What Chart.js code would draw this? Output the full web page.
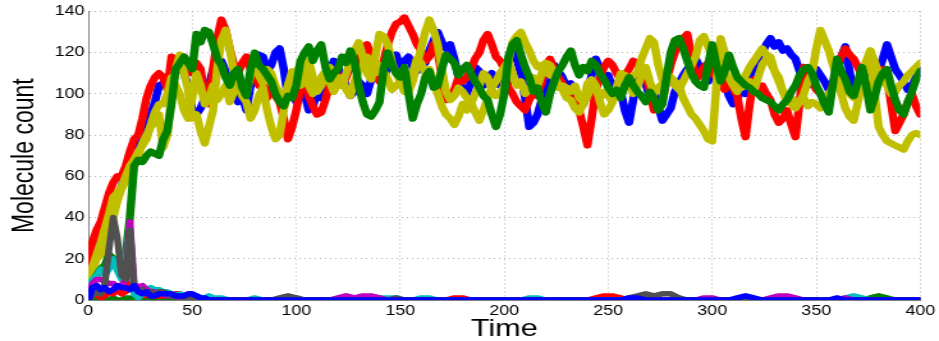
<!DOCTYPE html>
<html>
<head>
<meta charset="utf-8">
<script src="https://cdn.jsdelivr.net/npm/chart.js@4.4.1/dist/chart.umd.min.js"></script>
<style>
  html, body { margin: 0; padding: 0; background: #fff; overflow: hidden; }
  #wrap { width: 734px; height: 341px; transform: scaleX(1.2793); transform-origin: 0 0; }
</style>
</head>
<body>
<div id="wrap"><canvas id="chart"></canvas></div>
<script>
// sample times for the high-count species: every 2
var timeHi = [0,2,4,6,8,10,12,14,16,18,20,22,24,26,28,30,32,34,36,38,40,42,44,46,48,50,52,54,56,58,60,
  62,64,66,68,70,72,74,76,78,80,82,84,86,88,90,92,94,96,98,100,
  102,104,106,108,110,112,114,116,118,120,122,124,126,128,130,132,134,136,138,140,
  142,144,146,148,150,152,154,156,158,160,162,164,166,168,170,172,174,176,178,180,
  182,184,186,188,190,192,194,196,198,200,202,204,206,208,210,212,214,216,218,220,
  222,224,226,228,230,232,234,236,238,240,242,244,246,248,250,252,254,256,258,260,
  262,264,266,268,270,272,274,276,278,280,282,284,286,288,290,292,294,296,298,300,
  302,304,306,308,310,312,314,316,318,320,322,324,326,328,330,332,334,336,338,340,
  342,344,346,348,350,352,354,356,358,360,362,364,366,368,370,372,374,376,378,380,
  382,384,386,388,390,392,394,396,398,400];

// sample times for the low-count species: every 2 up to 60, then every 4
var timeLow = [0,2,4,6,8,10,12,14,16,18,20,22,24,26,28,30,32,34,36,38,40,42,44,46,48,50,52,54,56,58,60,
  64,68,72,76,80,84,88,92,96,100,104,108,112,116,120,124,128,132,136,140,
  144,148,152,156,160,164,168,172,176,180,184,188,192,196,200,204,208,212,216,220,
  224,228,232,236,240,244,248,252,256,260,264,268,272,276,280,284,288,292,296,300,
  304,308,312,316,320,324,328,332,336,340,344,348,352,356,360,364,368,372,376,380,
  384,388,392,396,400];

var xTicks = [0,50,100,150,200,250,300,350,400];
var yTicks = [0,20,40,60,80,100,120,140];

// high-count species
var blue = [8,18,28,32,36,40,44,50,55,62,70,74,78,80,86,90,96,104,105,104,112,115,117,110,104,92,90,93,98,104,112,
  110,116,111,106,102,96,99,92,104,112,119,118,111,114,120,122,112,98,101,96,
  104,100,92,94,101,98,106,110,116,113,108,104,99,101,106,104,100,107,112,110,
  108,113,115,119,113,116,118,113,111,117,115,121,126,130,125,122,124,117,108,102,
  100,106,113,111,104,108,110,106,104,109,116,123,117,110,98,84,86,90,97,103,
  110,114,111,108,103,105,99,93,95,100,109,117,112,107,109,103,105,101,92,86,
  97,108,111,105,98,100,94,87,90,93,101,105,109,112,114,117,113,111,106,110,
  112,115,106,99,95,97,103,100,106,112,117,120,124,127,123,125,121,122,119,117,
  111,107,104,108,112,109,106,102,105,110,118,123,111,100,103,106,111,113,108,111,
  117,124,118,112,109,106,102,104,108,112];
var red = [15,28,34,38,45,52,57,60,60,65,72,78,80,88,98,104,108,110,108,102,118,114,112,118,114,110,115,112,100,95,112,
  127,136,131,122,114,110,115,118,112,110,104,106,98,102,99,96,88,78,84,92,
  103,108,99,94,90,91,97,104,110,109,104,108,114,112,117,122,124,118,110,106,
  116,124,130,134,135,137,133,129,124,121,116,118,124,120,109,97,99,102,108,106,
  108,112,117,120,126,129,124,118,116,112,103,100,96,94,92,97,101,99,106,114,
  117,112,108,105,101,98,96,92,84,75,88,102,108,113,116,114,110,107,109,112,
  116,115,112,110,101,92,94,97,106,114,120,126,127,129,118,107,109,113,115,110,
  108,106,102,106,103,99,88,79,95,107,102,104,100,97,90,86,88,92,85,79,
  96,113,110,106,102,100,97,94,105,112,118,122,119,117,113,109,104,101,106,110,
  112,108,95,82,86,90,96,100,94,90];
var green = [5,9,12,15,17,22,20,17,15,22,40,65,68,67,70,72,71,70,78,82,95,112,115,118,115,112,129,125,131,130,124,
  117,114,108,104,110,112,103,99,112,120,114,112,109,106,100,96,94,99,98,104,
  116,120,123,116,121,124,113,107,110,112,118,115,121,116,104,96,90,89,92,96,
  112,120,114,110,108,113,100,88,95,100,108,111,103,104,112,119,117,115,109,112,
  114,110,106,103,99,97,90,84,90,100,118,124,126,119,113,108,101,103,96,91,
  100,106,111,114,118,121,114,109,113,111,116,114,110,107,103,100,102,98,104,108,
  104,101,99,96,101,98,92,95,108,120,126,127,122,116,110,106,104,103,114,124,
  114,106,111,119,113,108,106,104,103,101,100,98,97,96,94,92,95,97,101,104,
  109,112,113,110,104,100,95,91,105,117,111,107,101,99,106,113,104,92,98,106,
  110,112,104,97,92,90,96,101,107,111];
var yellowA = [8,14,20,22,26,32,40,48,54,58,62,66,70,76,80,84,86,90,74,80,100,112,119,110,102,88,90,82,76,84,92,
  112,126,131,122,110,104,99,96,88,92,99,103,92,84,78,80,92,104,111,109,
  115,112,104,100,104,108,111,113,110,107,104,110,116,121,125,118,110,107,118,129,
  128,124,115,110,106,103,101,106,114,122,130,136,131,124,112,101,97,99,103,101,
  98,95,100,104,110,108,102,99,100,104,116,125,128,130,125,121,116,113,114,111,
  109,108,103,104,103,101,104,98,96,105,107,104,96,90,92,96,102,107,104,106,
  109,110,117,122,127,125,114,107,110,108,106,104,98,94,90,88,85,82,78,77,
  104,127,120,114,112,108,103,104,106,101,108,114,117,118,111,106,101,98,95,93,
  96,100,106,110,122,131,126,121,114,108,100,93,89,87,96,105,114,121,101,84,
  80,77,76,75,74,73,77,80,81,80];
var yellowB = [12,16,22,28,35,42,50,52,55,60,65,68,72,75,78,85,91,95,95,100,108,104,100,92,88,98,110,104,95,98,104,
  97,100,104,96,101,108,104,100,109,115,109,105,112,110,104,100,98,104,110,108,
  104,112,116,108,101,104,110,106,101,105,108,102,99,106,111,114,118,115,110,114,
  111,107,102,104,106,101,104,110,117,115,110,112,106,100,94,90,88,85,89,95,
  92,96,91,87,92,98,103,106,110,113,116,110,104,106,100,102,108,104,110,115,
  114,110,104,102,98,97,93,91,95,99,104,102,98,101,99,96,103,110,109,106,
  100,103,109,113,106,100,103,105,110,108,104,102,106,110,114,118,126,128,123,118,
  117,114,110,108,104,101,105,109,113,116,119,122,119,115,111,108,101,96,98,95,
  97,98,94,96,95,93,97,100,103,105,101,102,100,98,104,110,116,121,116,110,
  106,104,100,101,104,106,109,111,113,115];

// low-count species
var blueLow = [0,6,7,5,6,4,5,7,6,6,5,7,4,3,4,2,2,3,3,3,3,2,2,2,3,3,2,1,1,0,0,
  0,0,0,0,0,0,0,0,0,0,
  0,0,0,0,0,0,0,0,0,0,
  0,0,0,0,0,0,0,0,0,0,
  0,0,0,0,0,0,0,0,0,0,
  0,0,0,0,0,0,0,0,0,1,
  1,0,0,0,0,0,0,0,0,0,
  0,0,1,2,1,0,0,0,0,0,
  0,0,0,0,1,0,0,0,0,0,
  0,0,0,0,0];
var redLow = [1,2,3,1,2,4,3,5,3,4,8,5,4,3,2,3,2,2,2,3,2,3,3,2,2,1,1,1,1,0,0,
  0,0,0,0,0,0,0,0,0,0,
  0,0,0,0,0,0,0,0,0,0,
  0,0,0,0,0,0,0,0,1,1,
  0,0,0,0,0,0,0,0,0,0,
  0,0,0,0,0,1,2,2,1,0,
  0,0,0,0,0,0,0,0,0,0,
  0,0,0,0,0,0,0,0,0,0,
  0,0,0,0,0,0,0,0,0,0,
  0,0,0,0,0];
var greenLow = [1,0,1,0,1,0,1,0,0,1,1,0,0,0,0,0,0,0,0,0,0,0,0,0,0,0,0,0,0,0,0,
  0,0,0,0,0,0,0,0,0,0,
  0,0,0,0,0,0,0,0,0,0,
  0,0,0,0,0,0,0,0,0,0,
  0,0,0,0,0,0,0,0,0,0,
  0,0,0,0,0,0,0,0,0,0,
  0,0,0,0,0,0,0,0,0,0,
  0,0,0,0,0,0,0,0,0,0,
  0,0,0,0,0,0,0,0,1,2,
  1,0,0,0,0];
var cyan = [5,10,12,15,12,15,20,14,10,18,36,3,1,3,5,6,5,5,4,4,3,2,3,2,1,2,2,1,1,2,1,
  1,0,0,0,1,0,0,0,0,1,
  0,0,0,0,0,0,0,0,0,1,
  1,1,0,0,1,1,0,0,0,0,
  0,0,0,0,0,0,0,1,1,0,
  0,0,0,0,0,0,0,0,0,0,
  0,0,0,0,0,0,0,0,0,0,
  0,0,0,0,0,0,0,0,0,0,
  0,0,0,0,0,1,2,1,0,0,
  0,0,0,0,0];
var magenta = [3,8,10,10,9,8,8,6,7,10,38,8,6,7,5,4,4,3,3,2,2,2,1,1,1,1,0,0,0,0,0,
  0,0,0,0,0,0,0,0,0,0,
  0,0,0,0,1,2,1,2,2,1,
  0,0,0,0,0,0,0,0,0,0,
  0,0,0,0,0,0,0,0,0,0,
  0,0,0,0,0,0,0,0,0,0,
  0,0,0,0,0,0,0,0,1,1,
  0,0,0,0,0,0,1,2,2,1,
  0,0,0,0,0,1,0,0,0,0,
  0,0,0,0,0];
var gray = [3,2,4,3,8,25,40,30,12,10,34,6,4,5,3,4,3,4,4,3,2,2,2,1,1,1,1,1,0,0,0,
  0,0,0,0,0,0,0,1,2,1,
  0,0,0,0,0,0,0,0,0,0,
  0,1,0,0,0,0,0,0,0,0,
  0,0,0,0,0,0,0,0,0,0,
  0,0,0,0,0,0,0,0,0,1,
  2,3,2,3,3,1,0,0,0,0,
  0,0,0,0,0,0,0,0,0,0,
  0,0,0,0,0,0,0,0,0,0,
  0,0,0,0,0];

function pts(times, values) {
  return values.map(function(v, i) { return { x: times[i], y: v }; });
}
function series(name, times, values, color, width) {
  return {
    label: name,
    data: pts(times, values),
    borderColor: color,
    backgroundColor: color,
    borderWidth: width,
    pointRadius: 0,
    tension: 0,
    fill: false,
    borderJoinStyle: 'round',
    borderCapStyle: 'round'
  };
}

// first dataset is painted last (on top)
var datasets = [
  series('blue low', timeLow, blueLow, '#0000ff', 5.5),
  series('gray', timeLow, gray, '#505050', 5.5),
  series('magenta', timeLow, magenta, '#bf00bf', 5.5),
  series('cyan', timeLow, cyan, '#00bfbf', 5.5),
  series('red low', timeLow, redLow, '#ff0000', 5.5),
  series('green low', timeLow, greenLow, '#008000', 5.5),
  series('green', timeHi, green, '#008000', 6.5),
  series('yellow A', timeHi, yellowA, '#bfbf00', 6.5),
  series('yellow B', timeHi, yellowB, '#bfbf00', 6.5),
  series('red', timeHi, red, '#ff0000', 6.5),
  series('blue', timeHi, blue, '#0000ff', 6.5)
];

var tickFont = { family: 'Liberation Sans, Arial, sans-serif', size: 14 };

new Chart(document.getElementById('chart'), {
  type: 'line',
  data: { datasets: datasets },
  options: {
    responsive: true,
    maintainAspectRatio: false,
    animation: false,
    devicePixelRatio: 1,
    layout: { padding: { left: 2, right: 5, top: 9, bottom: 0 } },
    plugins: { legend: { display: false }, tooltip: { enabled: false } },
    scales: {
      x: {
        type: 'linear',
        min: 0, max: 400,
        afterBuildTicks: function(scale) { scale.ticks = xTicks.map(function(v) { return { value: v }; }); },
        afterFit: function(scale) { scale.height = 41; },
        ticks: { font: tickFont, color: '#000', padding: 3, maxRotation: 0 },
        grid: { color: '#b0b0b0', lineWidth: 1, drawTicks: false },
        border: { display: true, color: '#808080', width: 1, dash: [1, 3] },
        title: { display: true, text: 'Time', color: '#000',
          font: { family: 'Liberation Sans, Arial, sans-serif', size: 24, lineHeight: 1 },
          padding: { top: 0, bottom: 0 } }
      },
      y: {
        type: 'linear',
        min: 0, max: 140,
        afterBuildTicks: function(scale) { scale.ticks = yTicks.map(function(v) { return { value: v }; }); },
        afterFit: function(scale) { scale.width = 67; },
        ticks: { font: tickFont, color: '#000', padding: 3 },
        grid: { color: '#b0b0b0', lineWidth: 1, drawTicks: false },
        border: { display: true, color: '#808080', width: 1, dash: [1, 3] },
        title: { display: true, text: 'Molecule count', color: '#000',
          font: { family: 'Liberation Sans, Arial, sans-serif', size: 23, lineHeight: 1.2 },
          padding: { top: 4, bottom: 0 } }
      }
    }
  }
});
</script>
</body>
</html>
